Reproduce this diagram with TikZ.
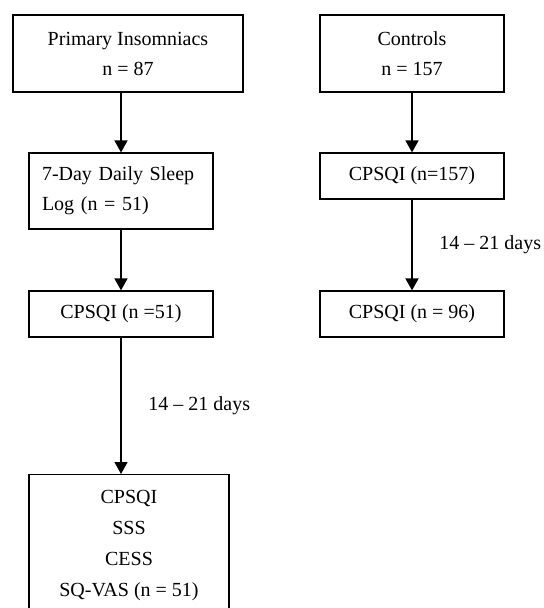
\documentclass[tikz,border=0pt]{standalone}
\usepackage{fontspec}
\setmainfont{Liberation Serif}
\usetikzlibrary{arrows.meta}
\tikzset{box/.style = {shape=rectangle,draw,line width=0.6pt,inner xsep=6.5pt,
    minimum width=92pt,align=center,font=\fontsize{10}{15}\selectfont}}
\tikzset{flow/.style = {-{Triangle[length=6pt,width=6.5pt]},line width=0.8pt}}

\begin{document}
\begin{tikzpicture}[x=0.5pt,y=-0.5pt]
        \useasboundingbox (0,0) rectangle (544,608);
        \node[box,minimum width=115pt,minimum height=38.5pt] (ins) at (128,53.5) {Primary Insomniacs\\n = 87};
        \node[box,minimum height=38pt,text width=79pt,align=left] (log) at (121,191) {7-Day Daily Sleep\\Log (n = 51)};
        \node[box,minimum height=23pt] (insa) at (121,314) {CPSQI (n =51)};
        \node[box,anchor=north,minimum width=100pt,inner ysep=8pt,font=\fontsize{10}{15.5}\selectfont] (insb) at (129,474) {CPSQI\\SSS\\CESS\\SQ-VAS (n = 51)};

        \node[box,minimum height=38.5pt] (con) at (412,53.5) {Controls\\n = 157};
        \node[box,minimum height=23pt] (cona) at (412,176) {CPSQI (n=157)};
        \node[box,minimum height=23pt] (conb) at (412,314) {CPSQI (n = 96)};

        \draw[flow] (ins.south -| log.north) to (log);
        \draw[flow] (log) to (insa);
        \path[flow] (insa) edge node[right=10pt,font=\fontsize{10}{12}\selectfont] {14 -- 21 days} (insa |- insb.north);
        \draw[flow] (con) to (cona);
        \path[flow] (cona) edge node[right=10pt,font=\fontsize{10}{12}\selectfont] {14 -- 21 days} (conb);
      \end{tikzpicture}
\end{document}
